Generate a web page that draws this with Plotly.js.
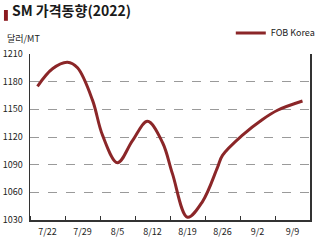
<!DOCTYPE html>
<html>
<head>
<meta charset="utf-8">
<script src="https://cdn.plot.ly/plotly-3.0.1.min.js"></script>
<style>html,body{margin:0;padding:0;background:#fff;}#chart{width:330px;height:242px;}</style>
</head>
<body>
<div id="chart"></div>
<script>
// Daily-ish readings of SM price (USD/MT), FOB Korea
const dates = ['2022-07-20','2022-07-23','2022-07-26','2022-07-28','2022-07-31','2022-08-02','2022-08-05','2022-08-08','2022-08-11','2022-08-14','2022-08-16','2022-08-19','2022-08-22','2022-08-25','2022-08-26','2022-08-30','2022-09-03','2022-09-06','2022-09-11'];
const fobKorea = [1175,1194,1201,1195,1160,1122,1092,1116,1137,1114,1080,1033,1050,1087,1100,1122,1139,1149,1159];
const weekTicks = ['2022-07-22','2022-07-29','2022-08-05','2022-08-12','2022-08-19','2022-08-26','2022-09-02','2022-09-09'];
const weekLabels = ['7/22','7/29','8/5','8/12','8/19','8/26','9/2','9/9'];
const yTicks = [1030,1060,1090,1120,1150,1180,1210];
const seriesName = 'FOB Korea';
const titleText = 'SM 가격동향(2022)';
const unitText = '달러/MT';

const font = "'Noto Sans CJK KR', 'Noto Sans', sans-serif";
const red = '#8b2628';

const trace = {
  x: dates, y: fobKorea, type: 'scatter', mode: 'lines', name: seriesName,
  line: {color: red, width: 3, shape: 'spline', smoothing: 1}
};

const layout = {
  width: 330, height: 242,
  margin: {l: 30, r: 10, t: 54, b: 22, pad: 0},
  paper_bgcolor: '#fff', plot_bgcolor: '#fff',
  font: {family: font, size: 9, color: '#222'},
  title: {text: titleText, x: 0, xref: 'container', xanchor: 'left', y: 1, yref: 'container', yanchor: 'top', pad: {l: 12, t: 6},
          font: {family: font, size: 14, color: '#1a1a1a', weight: 'bold'}},
  showlegend: true,
  legend: {x: 1.035, xanchor: 'right', y: 1.127, yanchor: 'middle', orientation: 'h', itemwidth: 30,
           font: {family: font, size: 9, color: '#222'}, bgcolor: 'rgba(0,0,0,0)'},
  xaxis: {
    type: 'date', range: ['2022-07-18 12:00', '2022-09-12 12:00'],
    tickmode: 'array', tickvals: weekTicks, ticktext: weekLabels,
    ticks: '', showgrid: false, zeroline: false,
    showline: true, linecolor: '#333', linewidth: 1.5,
    ticklabelstandoff: 3,
    tickfont: {family: font, size: 9, color: '#222'},
    minor: {tick0: '2022-07-18 12:00', dtick: 7 * 86400000, ticks: 'inside', ticklen: 4, tickcolor: '#333', tickwidth: 1, showgrid: false},
    fixedrange: true
  },
  yaxis: {
    range: [1030, 1210], tickmode: 'array', tickvals: yTicks,
    showgrid: true, gridcolor: '#9a9a9a', griddash: 'dash', gridwidth: 1,
    zeroline: false, showline: true, linecolor: '#333', linewidth: 1.5, mirror: true,
    ticks: '', ticklabelstandoff: 4,
    tickfont: {family: font, size: 9, color: '#222'},
    fixedrange: true
  },
  shapes: [
    {type: 'rect', xref: 'paper', yref: 'paper', x0: -0.093, x1: -0.079, y0: 1.2, y1: 1.265,
     fillcolor: '#8b1a1f', line: {width: 0}}
  ],
  annotations: [
    {text: unitText, xref: 'paper', yref: 'paper', x: -0.09, y: 1.045, xanchor: 'left', yanchor: 'bottom',
     showarrow: false, font: {family: font, size: 9, color: '#222'}}
  ]
};

Plotly.newPlot('chart', [trace], layout, {displayModeBar: false, staticPlot: true});
</script>
</body>
</html>
